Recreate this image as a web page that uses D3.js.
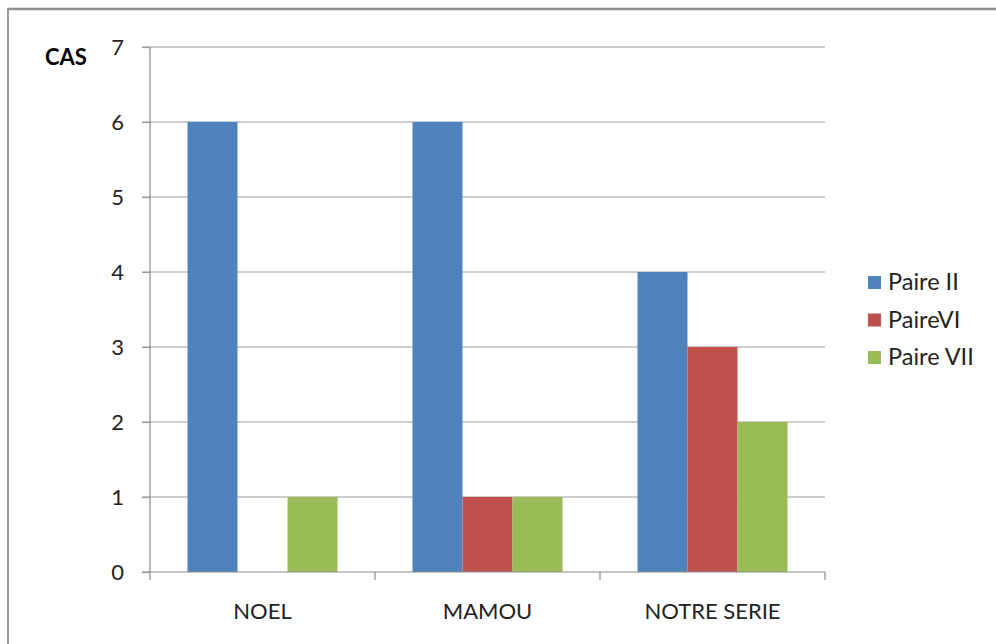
<!DOCTYPE html>
<html>
<head>
<meta charset="utf-8">
<script src="https://cdn.jsdelivr.net/npm/d3@7"></script>
<style>
  html, body { margin: 0; padding: 0; background: #fff; }
  svg { display: block; }
</style>
</head>
<body>
<svg id="chart" width="996" height="644"></svg>
<script>
// Groups along the x axis and the three series
const categories = ["NOEL", "MAMOU", "NOTRE SERIE"];
const seriesNames = ["Paire II", "PaireVI", "Paire VII"];
const paireII = [6, 6, 4];
const paireVI = [0, 1, 3];
const paireVII = [1, 1, 2];
const yTicks = [0, 1, 2, 3, 4, 5, 6, 7];
const colors = ["#4F81BD", "#C0504D", "#9BBB59"];

const seriesValues = [paireII, paireVI, paireVII];
const FONT = "Lato, 'Open Sans', sans-serif";

const svg = d3.select("#chart");

// frame
svg.append("line").attr("x1", 8).attr("x2", 996).attr("y1", 9).attr("y2", 9)
  .attr("stroke", "#8c8c8c").attr("stroke-width", 2.5);
svg.append("line").attr("x1", 8).attr("x2", 8).attr("y1", 8).attr("y2", 644)
  .attr("stroke", "#9a9a9a").attr("stroke-width", 2);

const plotLeft = 150, plotRight = 825, plotTop = 47, plotBottom = 572;

const x = d3.scaleBand().domain(categories).range([plotLeft, plotRight]).paddingInner(0).paddingOuter(0);
const x1 = d3.scaleBand().domain(d3.range(seriesNames.length))
  .range([0, x.bandwidth()]).paddingOuter(0.75).paddingInner(0);
const y = d3.scaleLinear().domain([0, 7]).range([plotBottom, plotTop]);

// horizontal gridlines
svg.append("g").selectAll("line").data(yTicks.filter(t => t > 0)).join("line")
  .attr("x1", plotLeft - 8).attr("x2", plotRight)
  .attr("y1", d => y(d)).attr("y2", d => y(d))
  .attr("stroke", "#9d9d9d").attr("stroke-width", 1.2);

// bars
const groups = svg.append("g").selectAll("g").data(categories).join("g")
  .attr("transform", d => `translate(${x(d)},0)`);
groups.selectAll("rect")
  .data((c, ci) => seriesValues.map((vals, si) => ({ si, v: vals[ci] })))
  .join("rect")
  .attr("x", d => x1(d.si))
  .attr("width", x1.bandwidth())
  .attr("y", d => y(d.v))
  .attr("height", d => y(0) - y(d.v))
  .attr("fill", d => colors[d.si]);

// y axis
const yAxis = svg.append("g").attr("transform", `translate(${plotLeft},0)`)
  .call(d3.axisLeft(y).tickValues(yTicks).tickSize(8).tickPadding(18).tickFormat(d3.format("d")));
yAxis.select(".domain").attr("stroke", "#8c8c8c").attr("stroke-width", 1.2).attr("d", `M0,${plotTop}V${plotBottom}`);
yAxis.selectAll(".tick line").attr("stroke", "#9d9d9d").attr("stroke-width", 1.2);
yAxis.selectAll(".tick text").attr("font-family", FONT).attr("font-size", 22).attr("fill", "#222");

// x axis
const xAxis = svg.append("g").attr("transform", `translate(0,${plotBottom})`);
xAxis.append("line").attr("x1", plotLeft - 8).attr("x2", plotRight).attr("y1", 0).attr("y2", 0)
  .attr("stroke", "#8c8c8c").attr("stroke-width", 1.2);
const boundaries = categories.map(c => x(c)).concat([plotRight]);
xAxis.selectAll("line.tk").data(boundaries).join("line").attr("class", "tk")
  .attr("x1", d => d).attr("x2", d => d).attr("y1", 0).attr("y2", 8)
  .attr("stroke", "#8c8c8c").attr("stroke-width", 1.2);
xAxis.selectAll("text").data(categories).join("text")
  .attr("x", d => x(d) + x.bandwidth() / 2).attr("y", 47)
  .attr("text-anchor", "middle")
  .attr("font-family", FONT).attr("font-size", 22).attr("fill", "#222")
  .text(d => d);

// y axis title
svg.append("text").attr("x", 45).attr("y", 65)
  .attr("font-family", FONT).attr("font-size", 22).attr("font-weight", "bold").attr("fill", "#000")
  .text("CAS");

// legend
const legend = svg.append("g").attr("transform", "translate(868,276)");
const item = legend.selectAll("g").data(seriesNames).join("g")
  .attr("transform", (d, i) => `translate(0,${i * 37.5})`);
item.append("rect").attr("width", 13).attr("height", 13).attr("fill", (d, i) => colors[i]);
item.append("text").attr("x", 20).attr("y", 14)
  .attr("font-family", FONT).attr("font-size", 23.5).attr("fill", "#222")
  .text(d => d);
</script>
</body>
</html>
